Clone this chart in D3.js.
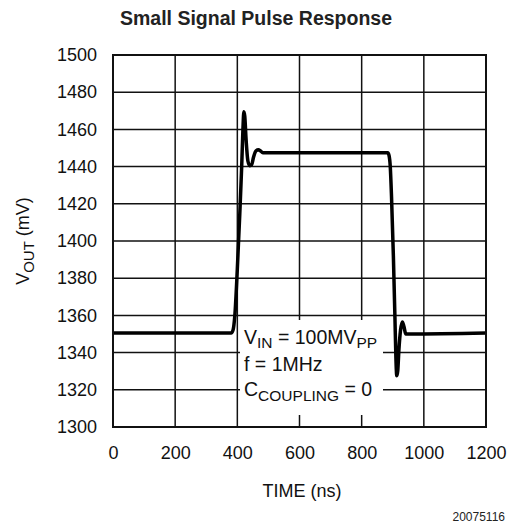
<!DOCTYPE html>
<html><head><meta charset="utf-8">
<script src="https://cdn.jsdelivr.net/npm/d3@7"></script>
<style>
html,body{margin:0;padding:0;background:#fff;}
svg{display:block;font-family:"Liberation Sans",Arial,Helvetica,sans-serif;}
</style></head>
<body>
<svg id="chart" width="510" height="529"></svg>
<script>
const timeNs = [0, 380, 386, 392, 400, 408, 414, 418, 421, 424, 428, 434, 440, 446, 452, 460, 468, 474, 482, 495, 884, 888, 892, 896, 902, 907, 910, 913, 916, 920, 925, 931, 936, 942, 953, 1200];
const voutMv = [1350.5, 1350.5, 1352, 1360, 1385, 1415, 1440, 1460, 1469.5, 1467, 1455, 1443, 1440.5, 1441, 1445, 1448.5, 1449, 1448.5, 1447.5, 1447.5, 1447.5, 1446, 1440, 1424, 1392, 1359, 1338, 1327.5, 1330, 1342, 1352, 1356.5, 1354, 1350, 1350, 1350.5];
const xTicks = [0, 200, 400, 600, 800, 1000, 1200];
const yTicks = [1300, 1320, 1340, 1360, 1380, 1400, 1420, 1440, 1460, 1480, 1500];

const svg = d3.select("#chart");
const L = 113, R = 486, T = 55, B = 427;
const x = d3.scaleLinear().domain([0, 1200]).range([L, R]);
const y = d3.scaleLinear().domain([1300, 1500]).range([B, T]);

// title
svg.append("text").attr("x", 256).attr("y", 25).attr("text-anchor", "middle")
  .attr("font-weight", "bold").attr("font-size", 19.5).attr("fill", "#222")
  .text("Small Signal Pulse Response");

// grid
const g = svg.append("g");
g.selectAll("line.v").data(xTicks).join("line")
  .attr("x1", d => x(d)).attr("x2", d => x(d)).attr("y1", T).attr("y2", B)
  .attr("stroke", "#111").attr("stroke-width", 1.5);
g.selectAll("line.h").data(yTicks).join("line")
  .attr("y1", d => y(d)).attr("y2", d => y(d)).attr("x1", L).attr("x2", R)
  .attr("stroke", "#111").attr("stroke-width", 1.5);

// axes labels via d3 axes (no tick lines)
const xAxis = svg.append("g").attr("transform", `translate(0,${B})`)
  .call(d3.axisBottom(x).tickValues(xTicks).tickSize(0).tickPadding(19).tickFormat(d3.format("d")));
const yAxis = svg.append("g").attr("transform", `translate(${L},0)`)
  .call(d3.axisLeft(y).tickValues(yTicks).tickSize(0).tickPadding(16).tickFormat(d3.format("d")));
[xAxis, yAxis].forEach(a => {
  a.select(".domain").remove();
  a.selectAll("text").attr("font-size", 18).attr("fill", "#111")
    .attr("font-family", "'Liberation Sans',Arial,sans-serif");
});

// annotation box
svg.append("rect").attr("x", 240).attr("y", 320).attr("width", 143).attr("height", 95).attr("fill", "#fff");

// curve
const line = d3.line().x((d, i) => x(timeNs[i])).y(d => y(d)).curve(d3.curveMonotoneX);
svg.append("path").datum(voutMv).attr("d", line).attr("fill", "none")
  .attr("stroke", "#000").attr("stroke-width", 3.5).attr("stroke-linejoin", "round");

// frame
svg.append("rect").attr("x", L).attr("y", T).attr("width", R - L).attr("height", B - T)
  .attr("fill", "none").attr("stroke", "#111").attr("stroke-width", 2);

// annotation text
const ann = svg.append("g").attr("font-size", 19.5).attr("fill", "#111");
const t1 = ann.append("text").attr("x", 244).attr("y", 344);
t1.append("tspan").text("V");
t1.append("tspan").attr("dy", 4).attr("font-size", 15.5).text("IN");
t1.append("tspan").attr("dy", -4).text(" = 100MV");
t1.append("tspan").attr("dy", 4).attr("font-size", 15.5).text("PP");
ann.append("text").attr("x", 244).attr("y", 371).text("f = 1MHz");
const t3 = ann.append("text").attr("x", 244).attr("y", 396);
t3.append("tspan").text("C");
t3.append("tspan").attr("dy", 5).attr("font-size", 15.5).text("COUPLING");
t3.append("tspan").attr("dy", -5).text(" = 0");

// axis titles
svg.append("text").attr("x", 302).attr("y", 497).attr("text-anchor", "middle")
  .attr("font-size", 18).attr("fill", "#111").text("TIME (ns)");
const yt = svg.append("text").attr("transform", "translate(29,241) rotate(-90)")
  .attr("text-anchor", "middle").attr("font-size", 18).attr("fill", "#111");
yt.append("tspan").text("V");
yt.append("tspan").attr("dy", 5).attr("font-size", 15).text("OUT");
yt.append("tspan").attr("dy", -5).text(" (mV)");

svg.append("text").attr("x", 505).attr("y", 521).attr("text-anchor", "end")
  .attr("font-size", 12).attr("fill", "#222").text("20075116");
</script>
</body></html>
